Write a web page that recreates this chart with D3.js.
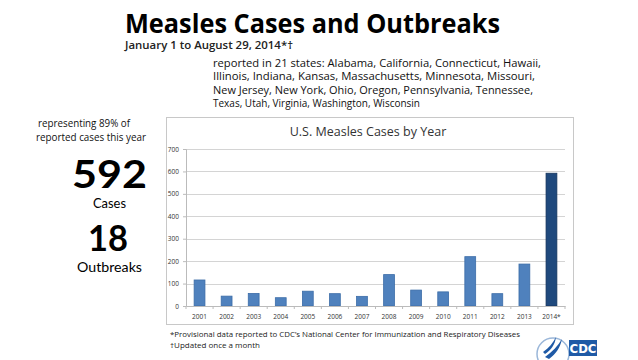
<!DOCTYPE html>
<html><head><meta charset="utf-8">
<script src="https://cdn.jsdelivr.net/npm/d3@7"></script>
<style>body{margin:0;background:#fff}svg{display:block}</style>
</head><body>
<script>
const years = ["2001","2002","2003","2004","2005","2006","2007","2008","2009","2010","2011","2012","2013","2014*"];
const cases = [116,44,56,37,66,55,43,140,71,63,220,55,187,592];
const yTicks = [0,100,200,300,400,500,600,700];
const stateLines = [
 "reported in 21 states: Alabama, California, Connecticut, Hawaii,",
 "Illinois, Indiana, Kansas, Massachusetts, Minnesota, Missouri,",
 "New Jersey, New York, Ohio, Oregon, Pennsylvania, Tennessee,",
 "Texas, Utah, Virginia, Washington, Wisconsin"];

const W=638,H=360;
const svg=d3.select("body").append("svg").attr("width",W).attr("height",H);
const F="'Open Sans', 'Noto Sans', sans-serif";

svg.append("text").attr("x",125).attr("y",33).attr("font-family",F).attr("font-weight",700)
 .attr("font-size",27).attr("textLength",375).attr("lengthAdjust","spacingAndGlyphs").text("Measles Cases and Outbreaks");
svg.append("text").attr("x",125).attr("y",49).attr("font-family",F).attr("font-weight",600)
 .attr("font-size",10.5).attr("fill","#222").attr("textLength",168).attr("lengthAdjust","spacingAndGlyphs").text("January 1 to August 29, 2014*†");

const stW=[328,322,320,207];
svg.append("g").selectAll("text").data(stateLines).join("text")
 .attr("x",213).attr("y",(d,i)=>67+i*13.4).attr("font-family",F).attr("font-size",10.5)
 .attr("fill","#111").attr("textLength",(d,i)=>stW[i]).attr("lengthAdjust","spacingAndGlyphs").text(d=>d);

// left panel
const G="Lato, "+F;
const lt=svg.append("g").attr("font-family",F).attr("text-anchor","middle");
lt.append("text").attr("x",84).attr("y",127).attr("font-size",10).attr("fill","#111")
 .attr("textLength",92).attr("lengthAdjust","spacingAndGlyphs").text("representing 89% of");
lt.append("text").attr("x",91).attr("y",141).attr("font-size",10).attr("fill","#111")
 .attr("textLength",110).attr("lengthAdjust","spacingAndGlyphs").text("reported cases this year");
lt.append("text").attr("x",109.5).attr("y",188).attr("font-size",39).attr("font-weight",700).attr("font-family",G)
 .attr("textLength",75).attr("lengthAdjust","spacingAndGlyphs").text("592");
lt.append("text").attr("x",109.5).attr("y",208).attr("font-size",12.5).attr("font-family",G)
 .attr("textLength",33).attr("lengthAdjust","spacingAndGlyphs").text("Cases");
lt.append("text").attr("x",108).attr("y",251).attr("font-size",37).attr("font-weight",700).attr("font-family",G)
 .attr("textLength",40).attr("lengthAdjust","spacingAndGlyphs").text("18");
lt.append("text").attr("x",109.5).attr("y",272).attr("font-size",12.5).attr("font-family",G)
 .attr("textLength",65).attr("lengthAdjust","spacingAndGlyphs").text("Outbreaks");

// chart box
svg.append("rect").attr("x",166.5).attr("y",117.5).attr("width",407).attr("height",207)
 .attr("fill","#fff").attr("stroke","#c8c8c8");
svg.append("text").attr("x",368).attr("y",136).attr("text-anchor","middle").attr("font-family",F)
 .attr("font-size",12.5).attr("fill","#333").text("U.S. Measles Cases by Year");

const x=d3.scaleBand().domain(years).range([186,565]).paddingInner(0.6).paddingOuter(0.3);
const y=d3.scaleLinear().domain([0,700]).range([306,149]);

svg.append("g").selectAll("line").data(yTicks.slice(1)).join("line")
 .attr("x1",186).attr("x2",565).attr("y1",d=>Math.round(y(d))+0.5).attr("y2",d=>Math.round(y(d))+0.5)
 .attr("stroke","#d4d4d4").attr("stroke-width",1.2);

const ya=svg.append("g").attr("transform","translate(186,0)")
 .call(d3.axisLeft(y).tickValues(yTicks).tickSize(3).tickPadding(4));
ya.select(".domain").attr("stroke","#bbb");
ya.selectAll(".tick line").attr("stroke","#bbb");
ya.selectAll("text").attr("font-family",F).attr("font-size",6.5).attr("fill","#333");

svg.append("g").selectAll("rect").data(years).join("rect")
 .attr("x",d=>x(d)).attr("width",x.bandwidth())
 .attr("y",(d,i)=>y(cases[i])).attr("height",(d,i)=>y(0)-y(cases[i]))
 .attr("fill",(d,i)=>i===13?"#1f497d":"#4f81bd")
 .attr("stroke",(d,i)=>i===13?"#15345c":"#3c6da8").attr("stroke-width",0.8);

const xa=svg.append("g").attr("transform","translate(0,306)")
 .call(d3.axisBottom(x).tickSize(0).tickPadding(8));
xa.select(".domain").attr("stroke","#bbb");
xa.selectAll("text").attr("font-family",F).attr("font-size",6.5).attr("fill","#333");
svg.append("g").selectAll("line").data(d3.range(15)).join("line")
 .attr("x1",i=>186+i*x.step()).attr("x2",i=>186+i*x.step()).attr("y1",306).attr("y2",309)
 .attr("stroke","#bbb");

// footnotes
svg.append("text").attr("x",170).attr("y",337).attr("font-family",F).attr("font-size",8).attr("fill","#222")
 .attr("textLength",350).attr("lengthAdjust","spacingAndGlyphs")
 .text("*Provisional data reported to CDC’s National Center for Immunization and Respiratory Diseases");
svg.append("text").attr("x",170).attr("y",348).attr("font-family",F).attr("font-size",8).attr("fill","#222")
 .text("†Updated once a month");

// CDC logo
const lg=svg.append("g");
lg.append("circle").attr("cx",553).attr("cy",354).attr("r",16).attr("fill","none").attr("stroke","#9bb7d9").attr("stroke-width",1.5);
lg.append("path").attr("d","M545,357 C552,352 558,346 562,339 C560,348 556,354 549,359 Z").attr("fill","#1f5aa6");
lg.append("path").attr("d","M543,352 C549,348 553,343 556,337 C555,345 551,350 545,354 Z").attr("fill","#1f5aa6");
lg.append("rect").attr("x",569).attr("y",340).attr("width",28).attr("height",16).attr("fill","#1f5aa6");
lg.append("text").attr("x",583).attr("y",353).attr("text-anchor","middle").attr("font-family","'Liberation Sans Narrow','DejaVu Sans Condensed',sans-serif")
 .attr("font-size",13).attr("font-weight",700).attr("fill","#fff").text("CDC");
</script>
</body></html>
